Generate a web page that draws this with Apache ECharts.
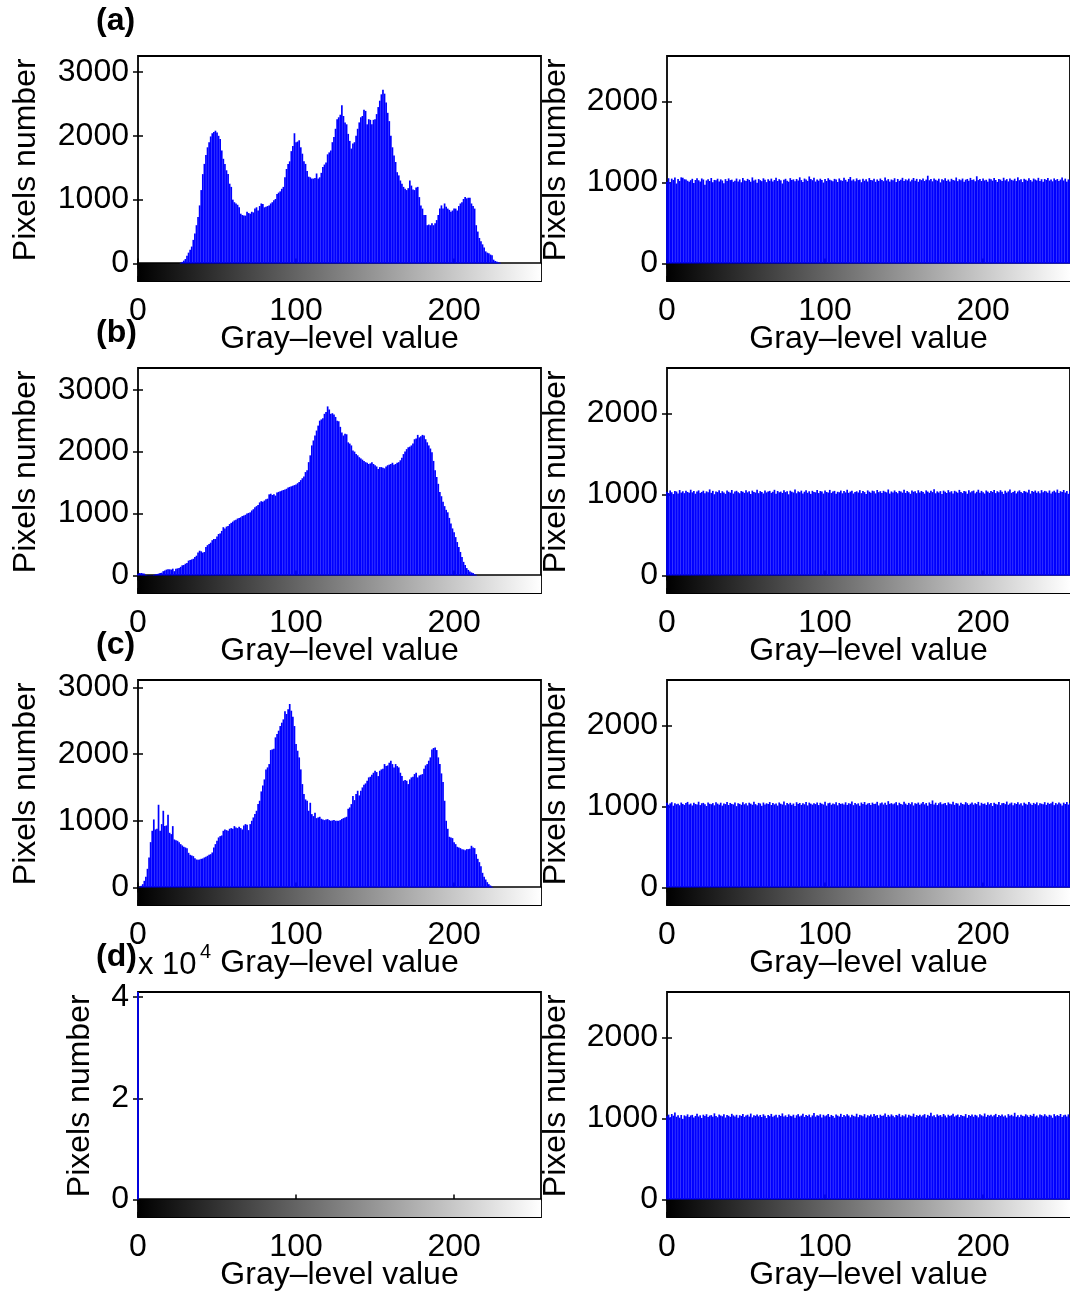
<!DOCTYPE html>
<html><head><meta charset="utf-8">
<script src="https://cdn.jsdelivr.net/npm/echarts@6/dist/echarts.min.js"></script>
<style>html,body{margin:0;padding:0;background:#fff}#c{width:1070px;height:1293px}</style>
</head><body><div id="c"></div>
<script>
// ---------- DATA (pixel counts per gray level 0..255) ----------
const histA = [
0,0,0,0,0,0,0,0,0,0,0,0,0,0,0,0,
0,0,0,0,0,0,0,0,0,0,0,10,25,45,70,120,
170,215,265,370,470,600,730,910,1150,1400,1560,1700,1820,1900,1990,2040,
2060,2080,2050,2000,1950,1770,1640,1560,1460,1400,1250,1200,1000,960,940,920,
880,780,760,750,750,810,790,780,810,800,860,880,830,900,940,930,
880,890,900,910,940,960,990,1010,1090,1110,1130,1170,1200,1350,1480,1560,
1600,1760,1840,2040,1900,1910,1930,1820,1720,1600,1560,1450,1360,1350,1330,1330,
1340,1410,1330,1350,1420,1510,1550,1580,1710,1740,1770,1900,1980,2110,2260,2290,
2330,2480,2310,2210,2180,2030,1920,1800,1880,1900,2000,2110,2210,2290,2310,2410,
2390,2180,2260,2250,2180,2250,2260,2340,2450,2550,2650,2720,2660,2520,2360,2230,
2000,1820,1690,1590,1430,1380,1300,1250,1200,1170,1150,1180,1300,1220,1160,1150,
1190,1200,1040,910,860,760,760,600,610,600,630,600,630,680,760,860,
910,860,940,890,860,840,810,830,860,860,830,900,940,960,1010,1040,
1020,1030,1030,940,900,860,600,500,400,350,300,250,190,170,160,140,
130,60,40,30,20,10,0,0,0,0,0,0,0,0,0,0,
0,0,0,0,0,0,0,0,0,0,0,0,0,0,0,0];
const histB = [
30,40,40,35,30,10,5,5,5,5,10,20,25,30,40,45,
70,80,95,100,100,95,110,70,110,115,120,140,165,170,190,200,
240,250,260,270,300,320,370,400,390,370,380,460,490,510,530,570,
590,590,630,670,680,720,780,760,790,800,830,850,870,890,900,920,
930,940,960,970,980,1000,1010,1020,1050,1070,1100,1120,1140,1180,1200,1190,
1210,1230,1240,1310,1320,1300,1310,1290,1340,1350,1360,1370,1380,1390,1400,1420,
1430,1440,1450,1460,1470,1490,1510,1540,1570,1600,1670,1700,1830,1940,2100,2180,
2260,2340,2420,2500,2520,2540,2610,2640,2730,2680,2610,2620,2600,2560,2500,2490,
2400,2310,2260,2290,2280,2150,2130,2100,2020,2000,1960,1940,1910,1890,1870,1850,
1830,1820,1800,1810,1830,1800,1780,1760,1720,1750,1750,1740,1730,1760,1780,1790,
1800,1820,1790,1800,1820,1830,1860,1900,1960,2000,2040,2070,2080,2100,2130,2200,
2210,2270,2230,2250,2270,2260,2200,2150,2100,2050,1990,1850,1700,1590,1480,1350,
1280,1190,1120,1060,1020,930,840,760,700,620,540,460,380,300,220,170,
120,90,65,50,40,20,10,0,0,0,0,0,0,0,0,0,
0,0,0,0,0,0,0,0,0,0,0,0,0,0,0,0,
0,0,0,0,0,0,0,0,0,0,0,0,0,0,0,0];
const histC = [
0,10,25,50,100,160,280,450,680,850,1020,870,880,1240,850,950,
1150,920,930,1090,820,800,920,720,710,700,680,650,630,610,600,590,
520,490,480,470,440,420,415,420,430,435,450,460,475,490,500,525,
600,650,700,750,770,780,850,870,860,850,880,890,880,920,900,890,
910,890,870,930,950,940,860,950,1000,1050,1100,1150,1250,1300,1440,1530,
1620,1770,1800,1850,2060,2070,2080,2250,2300,2350,2420,2470,2520,2640,2600,2670,
2750,2650,2560,2420,2150,2050,1950,1770,1550,1400,1320,1300,1150,1270,1100,1070,
1120,1040,1050,1060,1030,1020,1010,1020,1025,1010,1000,1005,1010,1000,1000,1000,
1010,1025,1040,1050,1060,1180,1200,1250,1370,1310,1400,1450,1380,1450,1500,1540,
1560,1600,1650,1660,1690,1720,1750,1730,1670,1750,1770,1780,1850,1820,1830,1870,
1900,1850,1800,1850,1820,1800,1720,1670,1600,1610,1600,1550,1620,1650,1660,1700,
1720,1650,1680,1690,1700,1780,1830,1850,1900,1950,2070,2090,2100,2060,1950,1850,
1710,1580,1300,1000,880,760,750,740,680,650,610,600,590,575,570,560,
575,575,580,625,600,590,500,430,380,320,220,160,120,80,50,30,
10,0,0,0,0,0,0,0,0,0,0,0,0,0,0,0,
0,0,0,0,0,0,0,0,0,0,0,0,0,0,0,0];
const histD = [
41000,0,0,0,0,0,0,0,0,0,0,0,0,0,0,0,
0,0,0,0,0,0,0,0,0,0,0,0,0,0,0,0,
0,0,0,0,0,0,0,0,0,0,0,0,0,0,0,0,
0,0,0,0,0,0,0,0,0,0,0,0,0,0,0,0,
0,0,0,0,0,0,0,0,0,0,0,0,0,0,0,0,
0,0,0,0,0,0,0,0,0,0,0,0,0,0,0,0,
0,0,0,0,0,0,0,0,0,0,0,0,0,0,0,0,
0,0,0,0,0,0,0,0,0,0,0,0,0,0,0,0,
0,0,0,0,0,0,0,0,0,0,0,0,0,0,0,0,
0,0,0,0,0,0,0,0,0,0,0,0,0,0,0,0,
0,0,0,0,0,0,0,0,0,0,0,0,0,0,0,0,
0,0,0,0,0,0,0,0,0,0,0,0,0,0,0,0,
0,0,0,0,0,0,0,0,0,0,0,0,0,0,0,0,
0,0,0,0,0,0,0,0,0,0,0,0,0,0,0,0,
0,0,0,0,0,0,0,0,0,0,0,0,0,0,0,0,
0,0,0,0,0,0,0,0,0,0,0,0,0,0,0,0];
const cipherA = [
1010,1052,998,1047,1031,1060,987,1044,1019,1063,1058,1040,1035,1021,1009,1028,
1045,993,1030,1052,1027,1011,1049,1036,972,1025,1040,1018,1055,1003,1031,1027,
1046,1012,1038,1024,990,1041,1017,1050,1029,1034,1008,1022,1048,1013,1037,1002,
1055,1026,1019,1044,1031,1009,1062,1023,1035,995,1042,1028,1016,1051,1033,1004,
1039,1021,1047,1012,1030,1057,1018,1040,1026,987,1034,1045,1020,1009,1053,1031,
1038,1015,1043,1024,1063,1029,1007,1048,1035,1019,1074,1042,1028,1059,1011,1037,
1022,1046,1030,999,1041,1018,1052,1033,1025,1014,1044,1036,1006,1049,1027,1020,
1058,1032,1010,1043,1067,1023,1038,1015,1050,1029,1035,1003,1047,1021,1039,1012,
1054,1031,1026,1045,1008,1037,1019,1048,1030,1016,1060,1024,1041,1011,1036,1028,
1052,1005,1043,1020,1034,1057,1017,1039,1026,1047,1013,1032,1055,1021,1044,1009,
1038,1029,1050,1018,1035,1083,1027,1042,1014,1049,1033,1022,1046,1001,1040,1028,
1053,1019,1036,1011,1045,1030,1024,1061,1016,1039,1027,1048,1008,1034,1043,1020,
1056,1031,1037,1015,1076,1029,1042,1018,1050,1025,1033,1010,1047,1038,1022,1054,
1030,1007,1044,1035,1019,1058,1026,1041,1013,1049,1032,1024,1046,1017,1063,1028,
1039,1005,1045,1034,1021,1052,1030,1012,1048,1036,1025,1057,1019,1040,1008,1043,
1031,1054,1022,1037,1014,1050,1029,1042,1018,1035,1061,1024,1047,1010,1038,1027];
const cipherB = [
1032,1018,1049,1027,1005,1041,1036,1012,1054,1023,1039,1016,1047,1030,1021,1058,
1026,1043,1009,1035,1050,1019,1031,1046,1014,1038,1027,1062,1020,1044,1003,1037,
1029,1051,1017,1040,1024,1008,1048,1033,1022,1055,1011,1036,1045,1028,1015,1042,
1034,1019,1053,1026,1039,1006,1047,1031,1023,1059,1016,1041,1030,1012,1049,1025,
1037,1044,1020,1032,1057,1010,1043,1027,1035,1018,1051,1029,1040,1002,1046,1033,
1024,1060,1015,1038,1028,1047,1013,1034,1052,1021,1039,1007,1045,1031,1026,1054,
1017,1042,1036,1011,1049,1030,1023,1056,1019,1037,1044,1009,1033,1027,1048,1014,
1041,1025,1058,1020,1035,1046,1012,1031,1039,1024,1053,1016,1043,1029,1005,1050,
1034,1021,1047,1038,1013,1055,1028,1040,1018,1045,1032,1026,1061,1011,1037,1023,
1049,1030,1015,1044,1036,1022,1057,1019,1042,1027,1008,1048,1033,1039,1016,1052,
1025,1043,1031,1010,1050,1035,1020,1046,1029,1064,1014,1038,1024,1041,1006,1047,
1032,1018,1053,1027,1040,1012,1045,1034,1021,1056,1030,1017,1043,1037,1009,1051,
1026,1039,1048,1014,1033,1058,1022,1044,1028,1011,1049,1035,1019,1042,1031,1055,
1016,1040,1027,1052,1034,1007,1046,1023,1038,1062,1020,1031,1045,1013,1036,1050,
1029,1017,1043,1035,1024,1057,1010,1041,1032,1048,1021,1039,1015,1053,1028,1044,
1037,1022,1049,1012,1034,1046,1026,1060,1019,1040,1031,1055,1023,1042,1008,1047];
const cipherC = [
1045,1021,1038,1052,1009,1040,1027,1034,1015,1048,1031,1019,1042,1056,1024,1036,
1012,1047,1030,1023,1058,1017,1039,1044,1026,1006,1050,1033,1028,1041,1014,1053,
1035,1022,1046,1010,1037,1029,1055,1018,1043,1031,1025,1049,1004,1038,1032,1020,
1051,1027,1040,1013,1046,1034,1021,1057,1029,1016,1044,1036,1008,1048,1023,1039,
1030,1054,1018,1042,1026,1037,1011,1049,1033,1024,1060,1015,1041,1028,1045,1020,
1036,1007,1052,1031,1043,1019,1038,1027,1056,1013,1047,1034,1022,1040,1029,1050,
1017,1045,1032,1024,1059,1010,1039,1046,1021,1035,1028,1053,1014,1043,1030,1037,
1025,1051,1019,1040,1033,1062,1016,1044,1027,1038,1009,1048,1031,1055,1022,1036,
1042,1018,1047,1029,1034,1057,1013,1039,1050,1024,1045,1020,1065,1032,1041,1026,
1038,1053,1015,1046,1030,1023,1059,1035,1019,1044,1028,1051,1012,1040,1033,1048,
1021,1037,1055,1026,1042,1010,1049,1031,1074,1024,1046,1017,1039,1052,1028,1035,
1044,1016,1050,1033,1027,1058,1020,1041,1036,1011,1047,1030,1025,1053,1039,1018,
1034,1048,1022,1040,1029,1056,1013,1045,1031,1037,1019,1051,1027,1042,1006,1046,
1032,1024,1054,1017,1039,1043,1028,1060,1021,1035,1048,1014,1041,1030,1052,1025,
1038,1011,1047,1033,1022,1056,1036,1019,1044,1029,1050,1015,1040,1034,1027,1053,
1020,1045,1031,1039,1058,1016,1042,1026,1049,1035,1012,1047,1030,1054,1023,1041];
const cipherD = [
1028,1047,1016,1055,1034,1072,1021,1040,1009,1043,995,1038,1026,1050,1019,1037,
1044,1012,1031,1058,1024,1039,1006,1046,1029,1052,1017,1035,1041,1022,1063,1030,
1015,1048,1036,1027,1053,1011,1042,1033,1020,1057,1038,1025,1045,1008,1040,1031,
1054,1019,1037,1046,1023,1060,1014,1039,1032,1049,1026,1043,1018,1051,1034,1005,
1041,1029,1056,1021,1035,1047,1012,1044,1030,1062,1024,1038,1017,1050,1033,1027,
1046,1010,1039,1053,1025,1036,1058,1019,1042,1031,1048,1015,1037,1066,1022,1040,
1034,1051,1013,1045,1028,1039,1055,1020,1043,1030,1009,1049,1035,1024,1057,1018,
1041,1027,1052,1036,1014,1047,1032,1023,1058,1016,1044,1038,1026,1053,1011,1040,
1029,1048,1021,1055,1033,1042,1007,1046,1030,1037,1061,1019,1044,1025,1050,1032,
1015,1043,1036,1057,1022,1040,1028,1051,1012,1045,1034,1026,1059,1018,1041,1030,
1047,1024,1038,1053,1010,1044,1031,1069,1027,1039,1016,1050,1033,1042,1021,1055,
1035,1013,1046,1029,1040,1058,1023,1037,1048,1017,1043,1032,1026,1054,1009,1041,
1030,1050,1022,1045,1036,1014,1052,1039,1027,1061,1020,1044,1033,1047,1025,1038,
1056,1018,1042,1031,1049,1024,1037,1011,1053,1034,1045,1028,1070,1021,1040,1016,
1046,1033,1027,1051,1038,1019,1044,1030,1057,1023,1036,1012,1048,1041,1026,1052,
1034,1020,1045,1037,1009,1053,1028,1042,1031,1055,1017,1039,1046,1024,1050,1013];

// tick labels
const xTicks = [0, 100, 200];
const yTicksLeft = [0, 1000, 2000, 3000];
const yTicksD = [0, 20000, 40000];
const yTicksRight = [0, 1000, 2000];
const panelLetters = ['(a)', '(b)', '(c)', '(d)'];

// ---------- LAYOUT ----------
const FONT = '"Liberation Sans", Arial, Helvetica, sans-serif';
const ROW_TOP = [56, 368, 680, 992];
const PLOT_H = 207.5, BAR_H = 17.5;
const COL_LEFT = [138, 667], PLOT_W = 403;
const LW = 1.8;

const grids = [], xAxes = [], yAxes = [], series = [];
const tickStyle = {color: '#000', width: 1.5};
const lblStyle = {color: '#000', fontSize: 32, fontFamily: FONT};

function tickOnlyX(gi, pos) {
  return {gridIndex: gi, type: 'value', min: 0, max: 255, position: pos,
    axisLine: {show: false}, splitLine: {show: false}, axisLabel: {show: false},
    axisTick: {inside: true, length: 5, lineStyle: tickStyle, customValues: xTicks}};
}

function addPanel(row, col, data, ymax, yTicks, yFmt, nameGap) {
  const left = COL_LEFT[col], top = ROW_TOP[row];
  const gi = grids.length;
  grids.push({left: left, top: top, width: PLOT_W, height: PLOT_H, show: true,
    borderColor: '#000', borderWidth: LW, backgroundColor: 'transparent'});
  grids.push({left: left, top: top + PLOT_H, width: PLOT_W, height: BAR_H, show: true,
    borderColor: '#000', borderWidth: LW, backgroundColor: 'transparent'});
  const xi = xAxes.length, yi = yAxes.length;
  xAxes.push(tickOnlyX(gi, 'bottom'));
  xAxes.push(tickOnlyX(gi, 'top'));
  const xl = tickOnlyX(gi + 1, 'bottom');
  xl.axisLabel = Object.assign({show: true, customValues: xTicks, margin: 14}, lblStyle);
  xl.name = 'Gray\u2013level value';
  xl.nameLocation = 'middle';
  xl.nameGap = 42;
  xl.nameMoveOverlap = false;
  xl.nameTextStyle = lblStyle;
  xAxes.push(xl);
  xAxes.push(tickOnlyX(gi + 1, 'top'));
  yAxes.push({gridIndex: gi, type: 'value', min: 0, max: ymax, position: 'left',
    axisLine: {show: false}, splitLine: {show: false},
    axisTick: {inside: true, length: 5, lineStyle: tickStyle, customValues: yTicks},
    axisLabel: Object.assign({customValues: yTicks, formatter: yFmt, margin: 9}, lblStyle),
    name: 'Pixels number', nameLocation: 'middle', nameGap: nameGap, nameMoveOverlap: false,
    nameTextStyle: lblStyle});
  yAxes.push({gridIndex: gi, type: 'value', min: 0, max: ymax, position: 'right',
    axisLine: {show: false}, splitLine: {show: false}, axisLabel: {show: false},
    axisTick: {inside: true, length: 5, lineStyle: tickStyle, customValues: yTicks}});
  yAxes.push({gridIndex: gi + 1, type: 'value', min: 0, max: 1, show: false});
  series.push({type: 'bar', xAxisIndex: xi, yAxisIndex: yi,
    data: data.map((v, i) => [i, v]), barWidth: 1.7, silent: true,
    itemStyle: {color: '#0000ff'}});
  series.push({type: 'line', xAxisIndex: xi + 2, yAxisIndex: yi + 2, silent: true,
    data: [[0, 1], [255, 1]], symbol: 'none', lineStyle: {width: 0}, z: 1,
    areaStyle: {opacity: 1, color: new echarts.graphic.LinearGradient(0, 0, 1, 0,
      [{offset: 0, color: '#000'}, {offset: 1, color: '#fff'}])}});
}

const leftHists = [histA, histB, histC, histD];
const rightHists = [cipherA, cipherB, cipherC, cipherD];
const leftMax = [3250, 3350, 3110, 41000];
const plain = v => String(v);
for (let r = 0; r < 4; r++) {
  if (r < 3) addPanel(r, 0, leftHists[r], leftMax[r], yTicksLeft, plain, 96);
  else addPanel(r, 0, leftHists[r], leftMax[r], yTicksD, v => String(v / 10000), 42);
  addPanel(r, 1, rightHists[r], 2560, yTicksRight, plain, 95);
}

const graphics = [];
panelLetters.forEach((t, r) => {
  graphics.push({type: 'text', left: 96, top: 5 + r * 312,
    style: {text: t, font: 'bold 32px ' + FONT, fill: '#000'}});
});
graphics.push({type: 'text', left: 138, top: 950,
  style: {text: 'x 10', font: '31px ' + FONT, fill: '#000'}});
graphics.push({type: 'text', left: 200, top: 942,
  style: {text: '4', font: '20px ' + FONT, fill: '#000'}});

const chart = echarts.init(document.getElementById('c'), null, {renderer: 'canvas'});
chart.setOption({
  animation: false,
  backgroundColor: '#fff',
  grid: grids, xAxis: xAxes, yAxis: yAxes, series: series, graphic: graphics
});
</script></body></html>
